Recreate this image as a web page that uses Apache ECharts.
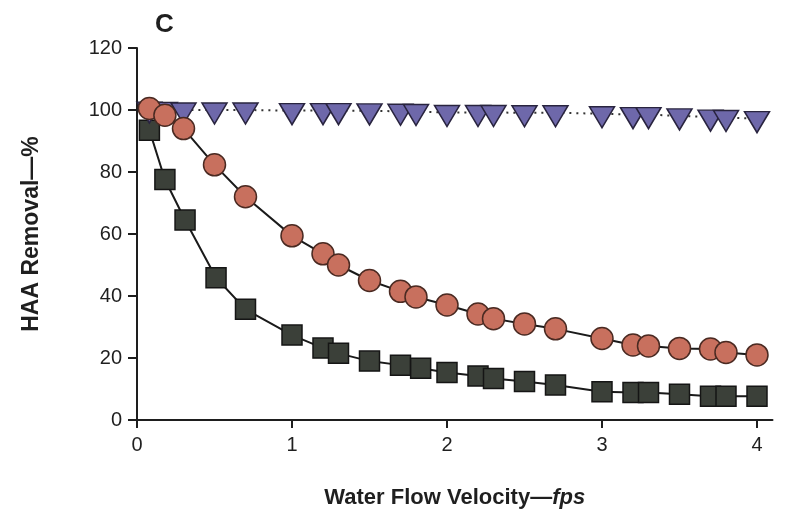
<!DOCTYPE html>
<html>
<head>
<meta charset="utf-8">
<script src="https://cdn.jsdelivr.net/npm/echarts@6/dist/echarts.min.js"></script>
<style>
html,body{margin:0;padding:0;background:#fff;}
#chart{width:788px;height:519px;}
</style>
</head>
<body>
<div id="chart"></div>
<script>
// ---- data ----
const xTicks = [0, 1, 2, 3, 4];
const yTicks = [0, 20, 40, 60, 80, 100, 120];

const triangleX = [0.08, 0.18, 0.3, 0.5, 0.7, 1.0, 1.2, 1.3, 1.5, 1.7, 1.8, 2.0, 2.2, 2.3, 2.5, 2.7, 3.0, 3.2, 3.3, 3.5, 3.7, 3.8, 4.0];
const triangleY = [100.3, 100.2, 100, 100, 100, 99.8, 99.8, 99.8, 99.7, 99.6, 99.5, 99.2, 99.2, 99.2, 99.1, 99.1, 98.8, 98.5, 98.5, 98.1, 97.7, 97.6, 97.2];

const circleX = [0.08, 0.18, 0.3, 0.5, 0.7, 1.0, 1.2, 1.3, 1.5, 1.7, 1.8, 2.0, 2.2, 2.3, 2.5, 2.7, 3.0, 3.2, 3.3, 3.5, 3.7, 3.8, 4.0];
const circleY = [100.5, 98.3, 94, 82.3, 72, 59.4, 53.6, 50, 45, 41.5, 39.7, 37.1, 34.2, 32.7, 31, 29.4, 26.3, 24.2, 23.9, 23.1, 22.9, 21.8, 21];

const squareX = [0.08, 0.18, 0.31, 0.51, 0.7, 1.0, 1.2, 1.3, 1.5, 1.7, 1.83, 2.0, 2.2, 2.3, 2.5, 2.7, 3.0, 3.2, 3.3, 3.5, 3.7, 3.8, 4.0];
const squareY = [93.5, 77.6, 64.5, 45.9, 35.7, 27.4, 23.2, 21.5, 19, 17.7, 16.7, 15.3, 14.2, 13.4, 12.4, 11.3, 9.1, 8.9, 8.9, 8.3, 7.7, 7.7, 7.7];

const panelLabel = 'C';
const xName = 'Water Flow Velocity—{i|fps}';
const yName = 'HAA Removal—%';

// ---- chart ----
const FONT = "'Liberation Sans', Arial, Helvetica, sans-serif";
const TEXT = '#1f1f1f';
const zip = (xs, ys) => xs.map((x, i) => [x, ys[i]]);
const chart = echarts.init(document.getElementById('chart'), null, {renderer: 'canvas'});

chart.setOption({
  animation: false,
  backgroundColor: '#ffffff',
  grid: {left: 137, top: 48, width: 635.5, height: 372, containLabel: false},
  graphic: [{
    type: 'text', left: 155, top: 12,
    style: {text: panelLabel, font: 'bold 26px ' + FONT, fill: TEXT}
  }],
  xAxis: {
    type: 'value', min: 0, max: 4.1, interval: 1,
    axisLine: {show: true, lineStyle: {color: '#1e1e1e', width: 2}},
    axisTick: {show: true, length: 8, inside: false, customValues: xTicks, lineStyle: {color: '#1e1e1e', width: 2}},
    axisLabel: {customValues: xTicks, margin: 15, fontSize: 20, color: TEXT, fontFamily: FONT},
    splitLine: {show: false},
    name: xName, nameLocation: 'middle', nameGap: 67,
    nameTextStyle: {fontSize: 22, fontWeight: 'bold', color: TEXT, fontFamily: FONT,
      rich: {i: {fontSize: 22, fontWeight: 'bold', fontStyle: 'italic', color: TEXT, fontFamily: FONT}}}
  },
  yAxis: {
    type: 'value', min: 0, max: 120, interval: 20,
    axisLine: {show: true, lineStyle: {color: '#1e1e1e', width: 2}},
    axisTick: {show: true, length: 9, inside: false, lineStyle: {color: '#1e1e1e', width: 2}},
    axisLabel: {margin: 15, fontSize: 20, color: TEXT, fontFamily: FONT},
    splitLine: {show: false},
    name: yName, nameLocation: 'middle', nameGap: 94,
    nameTextStyle: {fontSize: 23, fontWeight: 'bold', color: TEXT, fontFamily: FONT}
  },
  series: [
    {
      type: 'line', name: 'squares', data: zip(squareX, squareY),
      symbol: 'rect', symbolSize: 20,
      lineStyle: {color: '#1a1a1a', width: 2},
      itemStyle: {color: '#3b4039', borderColor: '#151515', borderWidth: 1.5},
      z: 2
    },
    {
      type: 'line', name: 'triangles', data: zip(triangleX, triangleY),
      symbol: 'triangle', symbolRotate: 180, symbolSize: [25, 21], symbolOffset: [0, 3.5],
      lineStyle: {color: '#333', width: 2, type: [2, 5]},
      itemStyle: {color: '#6e68aa', borderColor: '#29243f', borderWidth: 1.5},
      z: 3
    },
    {
      type: 'line', name: 'circles', data: zip(circleX, circleY),
      symbol: 'circle', symbolSize: 22,
      lineStyle: {color: '#1a1a1a', width: 2},
      itemStyle: {color: '#c8705e', borderColor: '#4a2a22', borderWidth: 1.5},
      z: 4
    }
  ]
});
</script>
</body>
</html>
